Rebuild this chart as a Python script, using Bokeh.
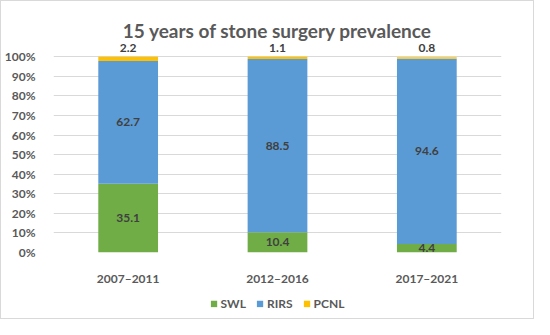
from bokeh.plotting import figure
from bokeh.layouts import column
from bokeh.models import FactorRange, Range1d, FixedTicker, NumeralTickFormatter, Legend, LegendItem, Label, ColumnDataSource
from bokeh.core.properties import value
from bokeh.embed import file_html
from bokeh.resources import INLINE

periods = ["2007–2011", "2012–2016", "2017–2021"]
swl = [35.1, 10.4, 4.4]
rirs = [62.7, 88.5, 94.6]
pcnl = [2.2, 1.1, 0.8]
series = ["SWL", "RIRS", "PCNL"]
y_ticks = [0, 0.1, 0.2, 0.3, 0.4, 0.5, 0.6, 0.7, 0.8, 0.9, 1.0]
title_text = "15 years of stone surgery prevalence"

FONT = "Lato"
GRAY = "#595959"
colors = ["#70AD47", "#5B9BD5", "#FFC000"]

src = ColumnDataSource(dict(
    period=periods,
    SWL=[v / 100 for v in swl],
    RIRS=[v / 100 for v in rirs],
    PCNL=[v / 100 for v in pcnl],
))

xr = FactorRange(*periods)
p = figure(x_range=xr, y_range=Range1d(0, 1.221),
           width=532, height=287, output_backend="svg", toolbar_location=None,
           min_border_left=52, min_border_right=32, min_border_top=12, min_border_bottom=32)
p.outline_line_color = None

p.vbar_stack(series, x="period", width=0.4, source=src, color=colors, line_color=None)

# grid / axes
p.xgrid.grid_line_color = None
p.ygrid.grid_line_color = "#D9D9D9"
p.ygrid.ticker = FixedTicker(ticks=y_ticks)
p.yaxis.ticker = FixedTicker(ticks=y_ticks)
p.yaxis.formatter = NumeralTickFormatter(format="0%")
for ax in (p.xaxis, p.yaxis):
    ax.axis_line_color = None
    ax.major_tick_line_color = None
    ax.minor_tick_line_color = None
    ax.major_label_text_font = FONT
    ax.major_label_text_font_style = "bold"
    ax.major_label_text_font_size = "12px"
    ax.major_label_text_color = GRAY
p.yaxis.major_label_standoff = 12
p.xaxis.major_label_standoff = 12

# data labels
swl_y = [s / 200 for s in swl]
rirs_y = [(s + r / 2) / 100 for s, r in zip(swl, rirs)]
pcnl_y = [(s + r + c) / 100 for s, r, c in zip(swl, rirs, pcnl)]
lab = ColumnDataSource(dict(
    x=periods * 3,
    y=swl_y + rirs_y + pcnl_y,
    t=[f"{v:.1f}" for v in swl + rirs + pcnl],
    yo=[0] * 6 + [-5] * 3,
    bl=["middle"] * 6 + ["bottom"] * 3,
))
p.text(x="x", y="y", text="t", source=lab, y_offset="yo", text_baseline="bl",
       text_align="center", text_font=value(FONT), text_font_style="bold",
       text_font_size="12px", text_color="#404040")

# title (inside the frame, above the 100% line)
p.add_layout(Label(x=1.5, y=1.1156, y_offset=4, text=title_text, text_align="center",
                   text_baseline="middle", text_font=FONT, text_font_style="bold",
                   text_font_size="19px", text_color=GRAY))

# legend strip: same stacked bars, but drawn out of view so only the legend shows
p2 = figure(width=532, height=30, output_backend="svg", toolbar_location=None,
            x_range=xr, y_range=Range1d(5, 6),
            x_axis_type=None, y_axis_type=None,
            min_border_left=0, min_border_right=0, min_border_top=0, min_border_bottom=0)
p2.outline_line_color = None
p2.xgrid.grid_line_color = None
p2.ygrid.grid_line_color = None
rs = p2.vbar_stack(series, x="period", width=0.4, source=src, color=colors, line_color=None)
legend = Legend(items=[LegendItem(label=n, renderers=[r]) for n, r in zip(series, rs)],
                orientation="horizontal", location="center",
                border_line_color=None, background_fill_alpha=0,
                label_text_font=FONT, label_text_font_style="bold", label_text_font_size="12px",
                label_text_color=GRAY, glyph_width=8, glyph_height=8, spacing=10,
                label_standoff=3, margin=0, padding=0)
p2.add_layout(legend)

layout = column(p, p2, spacing=0, styles={"border": "1px solid #D9D9D9"})
open("out.html", "w").write(file_html(layout, INLINE))
